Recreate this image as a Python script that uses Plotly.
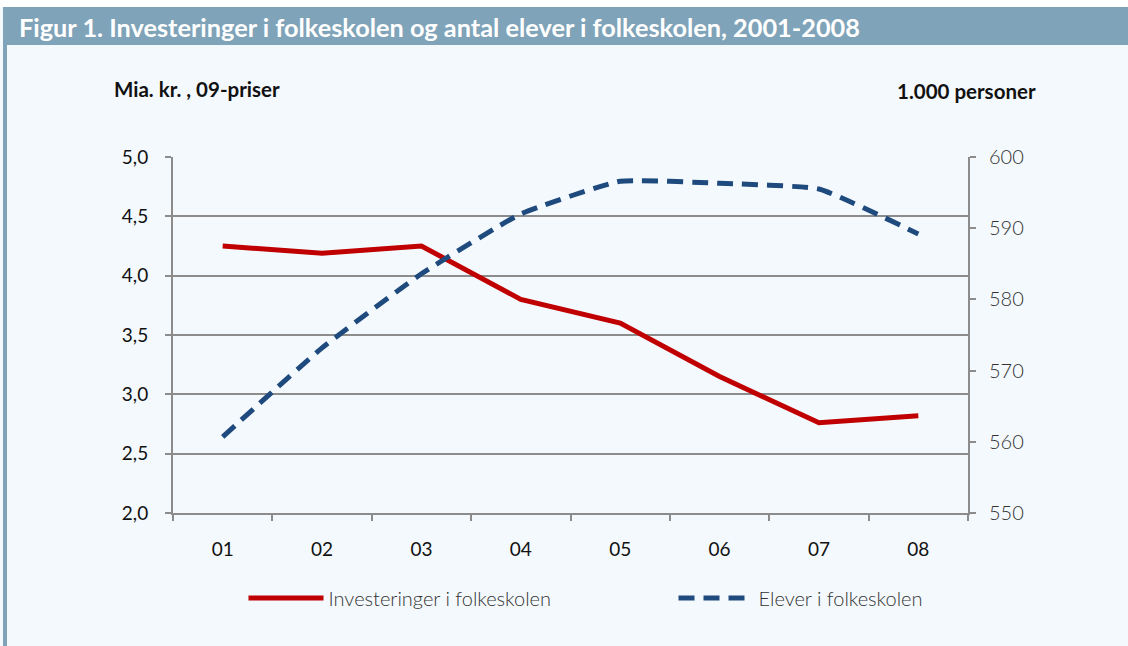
import plotly.graph_objects as go

years = ["01", "02", "03", "04", "05", "06", "07", "08"]
investeringer = [4.25, 4.19, 4.25, 3.80, 3.60, 3.15, 2.76, 2.82]
elever = [560.7, 573.2, 583.6, 592.0, 596.6, 596.3, 595.5, 589.2]

left_ticks = [2.0, 2.5, 3.0, 3.5, 4.0, 4.5, 5.0]
left_labels = ["2,0", "2,5", "3,0", "3,5", "4,0", "4,5", "5,0"]
right_ticks = [550, 560, 570, 580, 590, 600]

title_text = "Figur 1. Investeringer i folkeskolen og antal elever i folkeskolen, 2001-2008"
left_unit = "Mia. kr. , 09-priser"
right_unit = "1.000 personer"

BG = "#f4f9fd"
HEADER = "#7fa3b8"
GRID = "#8c8c8c"
FONT = "Lato"

W, H = 1128, 646
L, R, T, B = 173, 160, 157, 133
PW, PH = W - L - R, H - T - B


def px(x):
    return (x - L) / PW


def py(y):
    return (H - B - y) / PH


fig = go.Figure()
fig.add_trace(go.Scatter(
    x=years, y=investeringer, name="Investeringer i folkeskolen",
    mode="lines", line=dict(color="#c00000", width=5), yaxis="y", legend="legend"))
fig.add_trace(go.Scatter(
    x=years, y=elever, name="Elever i folkeskolen",
    mode="lines", line=dict(color="#1f4a7e", width=5, dash="16px,9px",
                            shape="spline", smoothing=0.4), yaxis="y2", legend="legend2"))

legend_common = dict(orientation="h", xanchor="left", y=py(598), yanchor="middle",
                     bgcolor="rgba(0,0,0,0)",
                     font=dict(family=FONT, size=20, color="#333", weight=300),
                     itemwidth=75)

fig.update_layout(
    width=W, height=H,
    paper_bgcolor=BG, plot_bgcolor=BG,
    margin=dict(l=L, r=R, t=T, b=B),
    font=dict(family=FONT, size=19, color="#222"),
    showlegend=True,
    legend=dict(x=px(243.5), **legend_common),
    legend2=dict(x=px(673.5), **legend_common),
    xaxis=dict(type="category", range=[-0.5, 7.5], showline=True, linecolor=GRID, linewidth=2,
               ticks="outside", tickson="boundaries", ticklen=6, tickcolor=GRID, tickwidth=2,
               showgrid=False, zeroline=False, tickfont=dict(size=19, color="#111"),
               ticklabelstandoff=18),
    yaxis=dict(range=[2.0, 5.0], tickvals=left_ticks, ticktext=left_labels,
               showline=True, linecolor=GRID, linewidth=2,
               ticks="outside", ticklen=6, tickcolor=GRID, tickwidth=2,
               showgrid=True, gridcolor=GRID, gridwidth=2, zeroline=False,
               tickfont=dict(size=19, color="#111"), ticklabelstandoff=13),
    yaxis2=dict(range=[550, 600], tickvals=right_ticks, overlaying="y", side="right",
                showline=True, linecolor=GRID, linewidth=2,
                ticks="outside", ticklen=6, tickcolor=GRID, tickwidth=2,
                showgrid=False, zeroline=False,
                tickfont=dict(size=20, color="#333", weight=300), ticklabelstandoff=9),
    shapes=[
        dict(type="rect", xref="paper", yref="paper", x0=px(-5), x1=px(W + 5), y0=py(7),
             y1=py(-5), fillcolor="white", line_width=0, layer="below"),
        dict(type="rect", xref="paper", yref="paper", x0=px(3), x1=px(W + 5),
             y0=py(45), y1=py(7), fillcolor=HEADER, line_width=0, layer="below"),
        dict(type="rect", xref="paper", yref="paper", x0=px(3), x1=px(7),
             y0=py(H + 5), y1=py(45), fillcolor=HEADER, line_width=0, layer="below"),
    ],
    annotations=[
        dict(text="<b>" + title_text + "</b>", xref="paper", yref="paper",
             x=px(17), y=py(27), xanchor="left", yanchor="middle",
             showarrow=False, font=dict(family=FONT, size=25.3, color="white")),
        dict(text="<b>" + left_unit + "</b>", xref="paper", yref="paper",
             x=px(112), y=py(89), xanchor="left", yanchor="middle",
             showarrow=False, font=dict(family=FONT, size=20.5, color="#111")),
        dict(text="<b>" + right_unit + "</b>", xref="paper", yref="paper",
             x=px(1038), y=py(91), xanchor="right", yanchor="middle",
             showarrow=False, font=dict(family=FONT, size=20.5, color="#111")),
    ],
)

fig.write_html("out.html", config={"displayModeBar": False},
               post_script="document.body.style.margin='0';")
